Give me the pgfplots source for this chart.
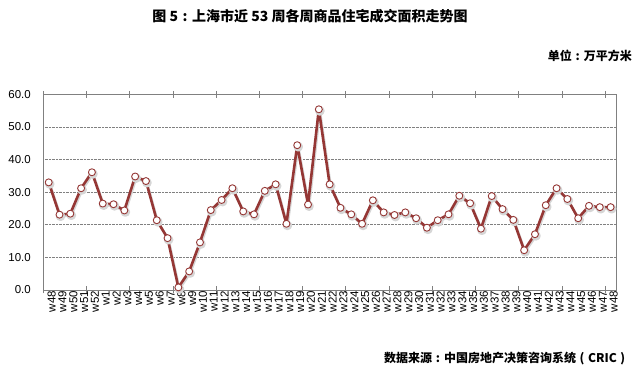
\documentclass[border=0pt]{standalone}
\usepackage{pgfplots}
\pgfplotsset{compat=1.18}
\usepackage{fontspec}
\setmainfont{Liberation Sans}
\newfontfamily\cjk{Noto Sans CJK SC}
\definecolor{linered}{RGB}{149,55,53}
\definecolor{axgray}{RGB}{128,128,128}
\newcommand{\fw}[1]{\makebox[1em][c]{#1}}
\pgfplotstableread[row sep=\\]{
x y\\
0 33.0\\ 1 23.1\\ 2 23.4\\ 3 31.2\\ 4 36.1\\ 5 26.5\\ 6 26.3\\ 7 24.4\\ 8 34.8\\ 9 33.4\\
10 21.4\\ 11 15.9\\ 12 0.8\\ 13 5.7\\ 14 14.6\\ 15 24.5\\ 16 27.6\\ 17 31.2\\ 18 24.1\\ 19 23.2\\
20 30.4\\ 21 32.4\\ 22 20.3\\ 23 44.4\\ 24 26.2\\ 25 55.4\\ 26 32.4\\ 27 25.2\\ 28 23.2\\ 29 20.3\\
30 27.5\\ 31 23.8\\ 32 23.0\\ 33 23.8\\ 34 22.0\\ 35 19.1\\ 36 21.4\\ 37 23.2\\ 38 28.9\\ 39 26.6\\
40 18.8\\ 41 28.8\\ 42 24.8\\ 43 21.5\\ 44 12.2\\ 45 17.1\\ 46 26.0\\ 47 31.2\\ 48 27.9\\ 49 22.0\\
50 25.8\\ 51 25.4\\ 52 25.4\\
}\datatable
\begin{document}
\begin{tikzpicture}
\useasboundingbox (0,0) rectangle (641bp,371bp);
\begin{axis}[
  at={(43.3bp,81bp)}, anchor=south west,
  scale only axis, width=572.7bp, height=195.7bp,
  xmin=-0.5, xmax=52.5, ymin=0, ymax=60,
  axis line style={axgray, line width=0.9bp},
  ytick={0,10,...,60},
  ymajorgrids, major grid style={densely dotted, axgray, line width=0.8bp},
  major tick length=0pt,
  xtick={0,...,52},
  minor xtick={-0.5,3.5,...,51.5},
  minor tick length=7bp, tick align=center,
  minor tick style={axgray, line width=0.9bp},
  xticklabels={w48,w49,w50,w51,w52,w1,w2,w3,w4,w5,w6,w7,w8,w9,w10,w11,w12,w13,w14,w15,w16,w17,w18,w19,w20,w21,w22,w23,w24,w25,w26,w27,w28,w29,w30,w31,w32,w33,w34,w35,w36,w37,w38,w39,w40,w41,w42,w43,w44,w45,w46,w47,w48},
  xticklabel style={rotate=90, anchor=east, yshift=-3bp, font=\fontsize{11.5bp}{13bp}\selectfont, inner sep=1bp},
  yticklabel style={xshift=-9bp, font=\fontsize{11.5bp}{13bp}\selectfont},
  /pgf/number format/assume math mode=true,
  yticklabel={\pgfmathprintnumber[fixed,fixed zerofill,precision=1]{\tick}},
  clip=false,
]
\addplot[black!16, line width=2.6bp, line join=round, shift={(1bp,-1.6bp)},
  mark=*, mark size=3.5bp, mark options={fill=black!16, draw=none}] table {\datatable};
\addplot[linered, line width=2.6bp, line join=round, mark=*, mark size=3.5bp,
  mark options={fill=white, draw=linered, line width=0.9bp}] table {\datatable};
\end{axis}
\node[font=\cjk\bfseries\fontsize{14bp}{16bp}\selectfont, inner sep=0] at (310bp,355bp) {图 5\fw{:}上海市近 53 周各周商品住宅成交面积走势图};
\node[font=\cjk\bfseries\fontsize{12bp}{14bp}\selectfont, inner sep=0, anchor=east] at (632bp,315bp) {单位\fw{:}万平方米};
\node[font=\cjk\bfseries\fontsize{12bp}{14bp}\selectfont, inner sep=0, anchor=east] at (629bp,12bp) {数据来源\fw{:}中国房地产决策咨询系统\fw{(}CRIC\fw{)}};
\end{tikzpicture}
\end{document}
